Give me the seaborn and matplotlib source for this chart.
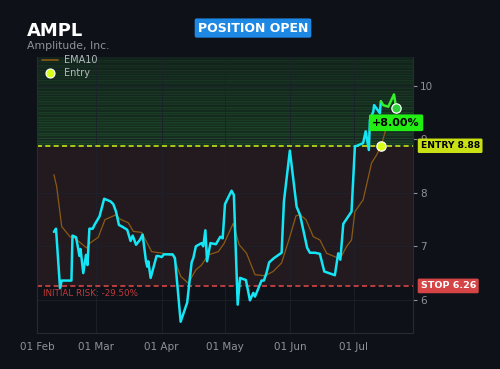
import numpy as np
import pandas as pd
import matplotlib
matplotlib.use("Agg")
import matplotlib.pyplot as plt
import matplotlib.dates as mdates
from matplotlib.lines import Line2D
import seaborn as sns

# ---- data ----
ticker = "AMPL"
company = "Amplitude, Inc."
base_date = "2025-02-01"
# days since base_date, closing price
price_days = [8.0, 9.0, 10.9, 11.7, 16.3, 16.8, 18.5, 20.1, 20.6, 21.9, 23.2, 23.9, 24.8, 26.4,
              27.2, 29.6, 31.8, 34.8, 36.1, 37.4, 38.8, 40.7, 42.7, 44.3, 45.3, 46.9, 48.7, 50.0,
              51.6, 52.2, 52.7, 53.8, 56.6, 57.4, 59.0, 60.1, 64.2, 65.3, 68.0, 71.1, 73.2, 74.0,
              75.2, 77.9, 78.7, 79.7, 80.5, 82.1, 84.7, 86.8, 87.9, 89.0, 92.1, 93.2, 95.0, 96.1,
              98.9, 100.8, 102.4, 103.2, 106.3, 107.4, 108.7, 109.9, 112.2, 115.8, 116.9, 119.7,
              122.9, 124.5, 127.9, 129.2, 131.6, 133.9, 136.0, 141.0, 142.6, 143.6, 145.0, 148.9,
              150.5, 151.5, 154.4, 155.6, 157.1, 157.6, 159.2, 159.6, 162.3, 162.8, 163.9, 166.3,
              169.0, 170.0]
price_vals = [7.27, 7.33, 6.22, 6.36, 6.36, 7.20, 7.17, 6.82, 6.95, 6.50, 6.84, 6.65, 7.33, 7.33,
              7.40, 7.56, 7.89, 7.84, 7.79, 7.65, 7.40, 7.36, 7.31, 7.10, 7.20, 7.03, 7.12, 7.22,
              6.72, 6.62, 6.72, 6.41, 6.82, 6.82, 6.80, 6.85, 6.85, 6.78, 5.59, 5.95, 6.70, 6.78,
              7.00, 7.06, 7.00, 7.30, 6.72, 7.06, 7.04, 7.18, 7.15, 7.79, 8.04, 7.96, 5.91, 6.41,
              6.37, 5.99, 6.13, 6.06, 6.36, 6.36, 6.51, 6.70, 6.78, 6.88, 7.84, 8.79,
              7.74, 7.59, 6.97, 6.88, 6.88, 6.86, 6.53, 6.46, 6.87, 6.75, 7.42, 7.65,
              8.87, 8.88, 8.93, 9.15, 8.80, 9.36, 9.52, 9.64, 9.49, 9.71, 9.64, 9.61,
              9.84, 9.59]
ema_days = [8.0, 9.3, 11.7, 15.6, 18.0, 23.5, 25.1, 29.0, 32.2, 37.4, 39.3, 43.2, 45.6, 49.5,
            54.3, 59.8, 64.5, 68.0, 71.6, 75.2, 77.9, 81.1, 85.8, 88.5, 92.9, 95.7, 99.2, 103.2,
            107.9, 111.8, 115.8, 119.7, 122.6, 124.5, 127.3, 130.8, 133.9, 137.1, 142.6, 144.2,
            146.6, 148.9, 150.5, 154.4, 158.4, 160.8, 163.1, 165.5, 169.9]
ema_vals = [8.34, 8.12, 7.37, 7.18, 7.15, 6.97, 7.06, 7.17, 7.50, 7.59, 7.51, 7.44, 7.28, 7.26,
            6.90, 6.87, 6.82, 6.44, 6.31, 6.56, 6.65, 6.84, 6.90, 7.05, 7.43, 7.03, 6.87, 6.47,
            6.45, 6.53, 6.69, 7.18, 7.57, 7.59, 7.50, 7.18, 7.12, 6.87, 6.78, 6.82,
            7.00, 7.12, 7.65, 7.87, 8.56, 8.71, 8.90, 9.24, 9.40]
entry_day = 162.8
entry_price = 8.88
stop_price = 6.26
gain_label = "+8.00%"
risk_label = "INITIAL RISK: -29.50%"
status_label = "POSITION OPEN"
xtick_dates = ["2025-02-01", "2025-03-01", "2025-04-01", "2025-05-01", "2025-06-01", "2025-07-01"]
yticks = [6, 7, 8, 9, 10]

# ---- styling ----
BG = "#0e1118"
GRID = "#1c212b"
TXT = "#8d929b"
CYAN = "#14e6f5"
GREEN = "#35f02a"
EMA_C = "#8a5a12"
ENTRY_C = "#c8e014"
STOP_C = "#d64545"

sns.set_theme(style="dark")
plt.rcParams["font.family"] = ["DejaVu Sans"]

base = pd.Timestamp(base_date)
df = pd.DataFrame({"date": base + pd.to_timedelta(price_days, unit="D"), "price": price_vals,
                   "day": price_days})
ema_df = pd.DataFrame({"date": base + pd.to_timedelta(ema_days, unit="D"), "ema": ema_vals})
entry_date = base + pd.to_timedelta(entry_day, unit="D")

fig = plt.figure(figsize=(5.0, 3.69), dpi=100, facecolor=BG)
ax = fig.add_axes([0.074, 0.0976, 0.752, 0.748])
ax.set_facecolor(BG)

ymin, ymax = 5.38, 10.54
xlim = (base, base + pd.Timedelta(days=178))

# zones
ax.axhspan(stop_price, entry_price, color="#231a20", zorder=0, lw=0)
nb = 34
edges = np.linspace(entry_price, ymax, nb + 1)
for i in range(nb):
    a = 0.32 - 0.15 * (i / nb)
    ax.axhspan(edges[i], edges[i + 1], color="#2f8a3a", alpha=a * (0.8 if i % 2 else 1.0), lw=0, zorder=0)
    ax.axhline(edges[i], color="#3a9a45", alpha=a * 0.7, lw=0.5, zorder=0)

# lines
pre = df[df["day"] <= entry_day]
post = df[df["day"] >= entry_day]
sns.lineplot(data=ema_df, x="date", y="ema", ax=ax, color=EMA_C, lw=0.9, estimator=None,
             sort=False, legend=False, zorder=3)
sns.lineplot(data=pre, x="date", y="price", ax=ax, color=CYAN, lw=1.8, estimator=None,
             sort=False, legend=False, zorder=4)
sns.lineplot(data=post, x="date", y="price", ax=ax, color=GREEN, lw=1.8, estimator=None,
             sort=False, legend=False, zorder=4)

ax.axhline(entry_price, color=ENTRY_C, ls=(0, (3, 2)), lw=1.2, zorder=2)
ax.axhline(stop_price, color=STOP_C, ls=(0, (3, 2)), lw=1.2, zorder=2)

# markers
ax.scatter([entry_date], [entry_price], s=45, color="#d8ff1a", edgecolor="white", lw=0.9, zorder=6)
last = df.iloc[-1]
ax.scatter([last["date"]], [last["price"]], s=45, color="#2ed13a", edgecolor="white", lw=0.9, zorder=6)

ax.annotate(gain_label, xy=(last["date"], last["price"]), xytext=(0, -15), textcoords="offset pixels",
            ha="center", va="center", fontsize=8, fontweight="bold", color="black", zorder=7,
            bbox=dict(boxstyle="round,pad=0.3,rounding_size=0.15", fc="#22ee14", ec="none"))

ax.annotate(risk_label, xy=(0.015, stop_price), xycoords=ax.get_yaxis_transform(),
            xytext=(0, -3), textcoords="offset pixels", color="#c0393b",
            fontsize=6.3, ha="left", va="top", zorder=5)

ax.text(1.02, entry_price, f"ENTRY {entry_price:.2f}", transform=ax.get_yaxis_transform(),
        ha="left", va="center", fontsize=6.6, fontweight="bold", color="black", clip_on=False,
        zorder=8, bbox=dict(boxstyle="round,pad=0.3,rounding_size=0.15", fc=ENTRY_C, ec="none"))
ax.text(1.02, stop_price, f"STOP {stop_price:.2f}", transform=ax.get_yaxis_transform(),
        ha="left", va="center", fontsize=6.8, fontweight="bold", color="white", clip_on=False,
        zorder=8, bbox=dict(boxstyle="round,pad=0.3,rounding_size=0.15", fc=STOP_C, ec="none"))

# axes
ax.set_xlim(xlim)
ax.set_ylim(ymin, ymax)
ax.set_xticks(pd.to_datetime(xtick_dates))
ax.xaxis.set_major_formatter(mdates.DateFormatter("%d %b"))
ax.set_yticks(yticks)
ax.yaxis.tick_right()
ax.set_xlabel("")
ax.set_ylabel("")
ax.tick_params(axis="both", colors=TXT, labelsize=7.5, length=3, width=0.8, labelcolor=TXT)
ax.tick_params(axis="y", pad=2)
ax.grid(True, color=GRID, lw=0.6)
for s in ["left", "bottom", "right"]:
    ax.spines[s].set_visible(True)
    ax.spines[s].set_color("#262b35")
    ax.spines[s].set_linewidth(0.8)
ax.spines["top"].set_visible(False)

handles = [Line2D([0], [0], color=EMA_C, lw=1.2, label="EMA10"),
           Line2D([0], [0], marker="o", ls="none", markersize=6.5, markerfacecolor="#d8ff1a",
                  markeredgecolor="white", markeredgewidth=0.8, label="Entry")]
leg = ax.legend(handles=handles, loc="upper left", frameon=False, fontsize=7, labelcolor="#b5b9c1",
                handlelength=1.7, handletextpad=0.6, borderaxespad=0.1, labelspacing=0.35,
                bbox_to_anchor=(0.0, 1.025))

fig.text(0.054, 0.903, ticker, color="white", fontsize=13, fontweight="bold", ha="left", va="baseline")
fig.text(0.054, 0.876, company, color=TXT, fontsize=7.8, ha="left", va="center")
fig.text(0.506, 0.924, status_label, color="white", fontsize=9, fontweight="bold", ha="center",
         va="center", bbox=dict(boxstyle="round,pad=0.25,rounding_size=0.15", fc="#1e88e5", ec="none"))

fig.savefig("out.png", dpi=100, facecolor=BG)
